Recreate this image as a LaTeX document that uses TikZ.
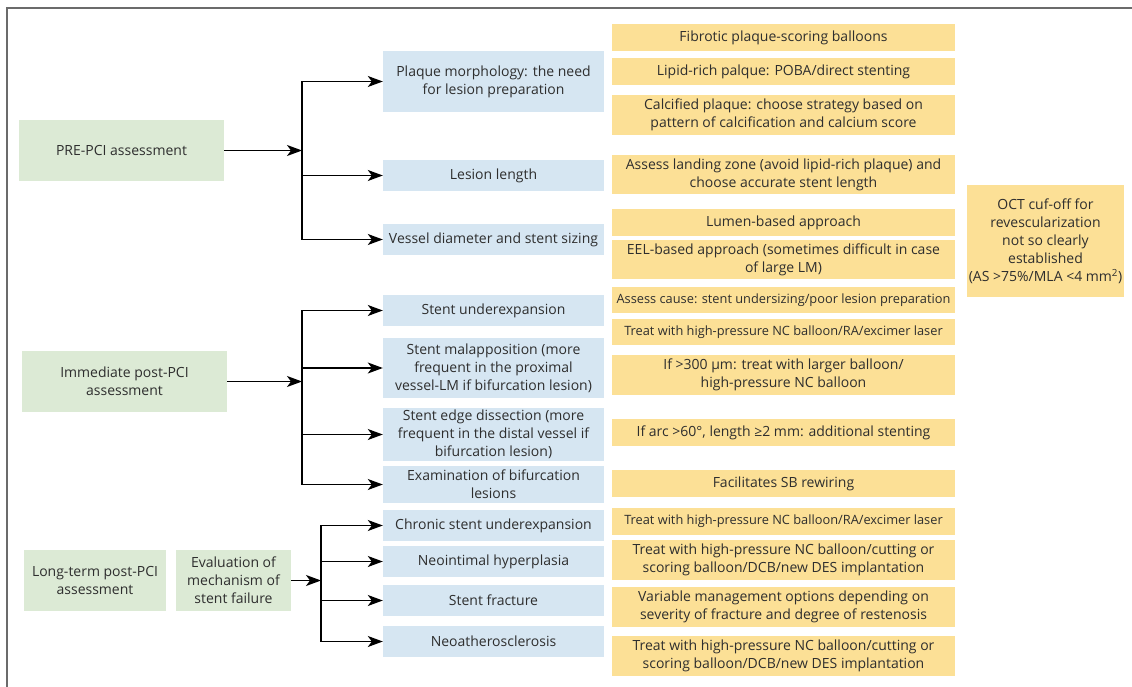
\documentclass[tikz,border=0pt]{standalone}
\usepackage{fontspec}
\setmainfont{Open Sans}
\usepackage{tikz}
\usetikzlibrary{arrows.meta}

\definecolor{greenbox}{HTML}{DCEAD5}
\definecolor{bluebox}{HTML}{D6E6F2}
\definecolor{yellowbox}{HTML}{FCE096}
\definecolor{textgray}{HTML}{2E2E2E}
\definecolor{framegray}{HTML}{6B6B6B}

\begin{document}
\begin{tikzpicture}[
        x=1pt, y=-1pt,
        >={Stealth[length=15pt, width=11pt, inset=4pt]},
        every node/.style={inner sep=0pt, align=center, text=textgray,
            font=\fontsize{14}{18}\selectfont},
        stage/.style={fill=greenbox, minimum height=61pt},
        finding/.style={fill=bluebox, minimum width=221pt}
        ]
    % Define styles
    \tikzstyle{action} = [fill=yellowbox, minimum width=343pt]
    \tikzstyle{small} = [font=\fontsize{12.8}{16}\selectfont]

    \useasboundingbox (0,0) rectangle (1132,687);

    % Frame
    \draw[framegray, line width=1.5pt] (1132,8) -- (7,8) -- (7,687);

    % Define stage nodes
    \node[stage, minimum width=205pt] (pre) at (121.5, 150.5) {PRE-PCI assessment};
    \node[stage, minimum width=205pt] (imm) at (124.5, 381.5) {Immediate post-PCI\\assessment};
    \node[stage, minimum width=142pt] (lt) at (95, 580.5) {Long-term post-PCI\\assessment};
    \node[stage, minimum width=115pt] (eval) at (233.5, 580.5) {Evaluation of\\mechanism of\\stent failure};

    % Define junction coordinates
    \coordinate (j1) at (302, 150.5);
    \coordinate (j2) at (302, 381.5);
    \coordinate (j3) at (321, 580.5);

    % Define finding nodes
    \node[finding, minimum height=61pt] (plaque) at (493.5, 81.5) {Plaque morphology: the need\\for lesion preparation};
    \node[finding, minimum height=31pt] (length) at (493.5, 175.5) {Lesion length};
    \node[finding, minimum height=31pt] (vessel) at (493.5, 239.5) {Vessel diameter and stent sizing};
    \node[finding, minimum height=31pt] (under) at (493.5, 310.5) {Stent underexpansion};
    \node[finding, minimum height=60pt] (malapp) at (493.5, 368) {Stent malapposition (more\\frequent in the proximal\\vessel-LM if bifurcation lesion)};
    \node[finding, minimum height=53pt] (edge) at (493.5, 434.5) {Stent edge dissection (more\\frequent in the distal vessel if\\bifurcation lesion)};
    \node[finding, minimum height=37pt] (bifurc) at (493.5, 484.5) {Examination of bifurcation\\lesions};
    \node[finding, minimum height=31pt] (chronic) at (493.5, 525.5) {Chronic stent underexpansion};
    \node[finding, minimum height=31pt] (neoint) at (493.5, 561.5) {Neointimal hyperplasia};
    \node[finding, minimum height=31pt] (fract) at (493.5, 600.5) {Stent fracture};
    \node[finding, minimum height=31pt] (neoath) at (493.5, 641.5) {Neoatherosclerosis};

    % Define action nodes
    \node[action, minimum height=27pt] (fibro) at (783.5, 37.5) {Fibrotic plaque-scoring balloons};
    \node[action, minimum height=27pt] (lipid) at (783.5, 71.5) {Lipid-rich palque: POBA/direct stenting};
    \node[action, minimum height=40pt] (calc) at (783.5, 115) {Calcified plaque: choose strategy based on\\pattern of calcification and calcium score};
    \node[action, minimum height=39pt] (landing) at (783.5, 174.5) {Assess landing zone (avoid lipid-rich plaque) and\\choose accurate stent length};
    \node[action, minimum height=27pt] (lumen) at (783.5, 222.5) {Lumen-based approach};
    \node[action, minimum height=39pt] (eel) at (783.5, 259.5) {EEL-based approach (sometimes difficult in case\\of large LM)};
    \node[action, small, minimum height=26pt] (cause) at (783.5, 300) {Assess cause: stent undersizing/poor lesion preparation};
    \node[action, small, minimum height=26pt] (treat1) at (783.5, 332) {Treat with high-pressure NC balloon/RA/excimer laser};
    \node[action, minimum height=40pt] (larger) at (783.5, 375) {If >300 µm: treat with larger balloon/\\high-pressure NC balloon};
    \node[action, minimum height=27pt] (arc) at (783.5, 432.5) {If arc >60°, length ≥2 mm: additional stenting};
    \node[action, minimum height=27pt] (rewire) at (783.5, 483.5) {Facilitates SB rewiring};
    \node[action, small, minimum height=27pt] (treat2) at (783.5, 521.5) {Treat with high-pressure NC balloon/RA/excimer laser};
    \node[action, minimum height=40pt] (treat3) at (783.5, 560) {Treat with high-pressure NC balloon/cutting or\\scoring balloon/DCB/new DES implantation};
    \node[action, minimum height=40pt] (variable) at (783.5, 607) {Variable management options depending on\\severity of fracture and degree of restenosis};
    \node[action, minimum height=40pt] (treat4) at (783.5, 656) {Treat with high-pressure NC balloon/cutting or\\scoring balloon/DCB/new DES implantation};

    % Define cut-off node
    \node[action, minimum width=157pt, minimum height=112pt] (oct) at (1045.5, 241) {OCT cuf-off for\\revescularization\\not so clearly\\established\\(AS >75\%/MLA <4 mm\textsuperscript{2})};

    % Draw edges from stages to junctions
    \begin{scope}[line width=1.3pt]
    \draw[->] (pre) -- (j1);
    \draw[->] (imm) -- (j2);
    \draw[->] (eval) -- (j3);

    % Draw edges from junctions to findings
    \draw[->] (j1) |- (plaque);
    \draw[->] (j1) |- (length);
    \draw[->] (j1) |- (vessel);
    \draw[->] (j2) |- (under);
    \draw[->] (j2) |- (malapp);
    \draw[->] (j2) |- (edge);
    \draw[->] (j2) |- (bifurc);
    \draw[->] (j3) |- (chronic);
    \draw[->] (j3) |- (neoint);
    \draw[->] (j3) |- (fract);
    \draw[->] (j3) |- (neoath);
    \end{scope}

\end{tikzpicture}
\end{document}
